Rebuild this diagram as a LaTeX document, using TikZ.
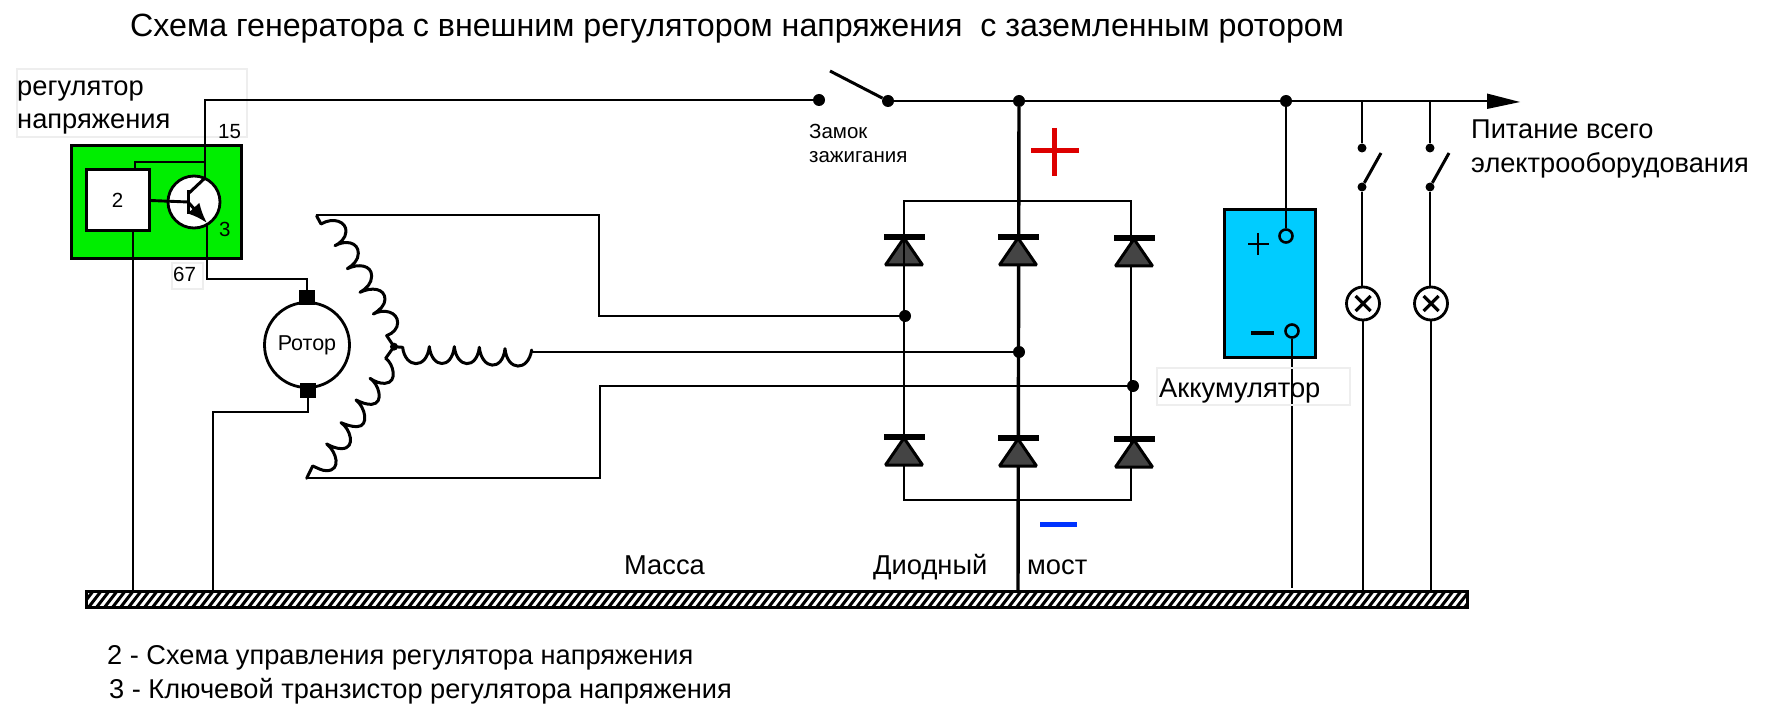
\documentclass[tikz,border=0pt]{standalone}
\usepackage{fontspec}
\usetikzlibrary{arrows.meta}
\setmainfont{Liberation Sans}
\definecolor{regreen}{RGB}{0,238,0}
\definecolor{batblue}{RGB}{0,204,255}
\definecolor{diodegray}{RGB}{68,68,68}
\definecolor{boxgray}{RGB}{238,238,238}
\definecolor{plusred}{RGB}{221,0,0}
\definecolor{minusblue}{RGB}{0,51,255}
\newcommand{\fsz}[1]{\fontsize{#1}{#1}\selectfont}
\tikzset{
  wire/.style={line width=2.9pt,draw=black},
  junction/.style={circle,fill=black,inner sep=0pt,minimum size=#1},
  junction/.default=12pt,
  terminal/.style={circle,draw=black,line width=2.6pt,fill=batblue,inner sep=0pt,minimum size=13pt},
  lamp/.style={circle,draw=black,line width=2.8pt,fill=white,inner sep=0pt,minimum size=33pt},
  graybox/.style={draw=boxgray,line width=2pt,fill=white},
  lab/.style={anchor=base west,inner sep=0pt,text=black},
  brush/.style={fill=black,inner sep=0pt,minimum width=16pt,minimum height=15pt},
  coilline/.style={line width=3pt,line cap=round,line join=round},
  diodepic/.pic={
    \fill[black] (-20.5,-3) rectangle (20.5,3);
    \draw[line width=3pt,fill=diodegray,miter limit=2] (0,1) -- (-18.5,28) -- (18.5,28) -- cycle;
  }
}
\begin{document}
\begin{tikzpicture}[x=1pt,y=-1pt]
\useasboundingbox (0,0) rectangle (1767,719);
% title
\node[lab,font=\fsz{32.2}] (title) at (130,37) {Схема генератора с внешним регулятором напряжения\ \ с заземленным ротором};
% regulator label
\node[graybox,minimum width=230pt,minimum height=68pt,inner sep=0pt] (reglabel) at (132,103) {};
\node[lab,font=\fsz{27.3}] (regt1) at (17,96) {регулятор};
\node[lab,font=\fsz{27.3}] (regt2) at (17,129) {напряжения};
% regulator
\node[draw=black,line width=3pt,fill=regreen,minimum width=170pt,minimum height=113pt,inner sep=0pt] (reg) at (156,202.5) {};
\node[draw=black,line width=3pt,fill=white,minimum width=63pt,minimum height=61pt,inner sep=0pt,font=\fsz{20.5}] (ctl) at (117.5,200.5) {2};
\node[circle,draw=black,line width=2.8pt,fill=white,inner sep=0pt,minimum size=52pt] (tr) at (194,202) {};
\coordinate (base) at (188,202);
\coordinate (coll) at (205,178);
\coordinate (emit) at (207,223);
\coordinate (hub) at (205,162);
\coordinate (ctop) at (135,170);
\coordinate (gA) at (133,590);
\coordinate (gB) at (213,590);
\node[lab,font=\fsz{20.5}] (n15) at (218,139) {15};
\node[lab,font=\fsz{20.5}] (n3) at (219,237) {3};
\node[graybox,minimum width=31pt,minimum height=26pt,inner sep=0pt] (box67) at (187.5,276) {};
\node[lab,font=\fsz{20.5}] (n67) at (173,282) {67};
% ground
\begin{scope}
  \clip (86,592) rectangle (1467,606);
  \foreach \hx in {80,88,...,1470} \draw[line width=3pt] (\hx,608) -- (\hx+14,590);
\end{scope}
\node[draw=black,line width=3pt,minimum width=1381pt,minimum height=16pt,inner sep=0pt] (gnd) at (776.5,599.5) {};
% rotor
\node[circle,draw=black,line width=2.8pt,fill=white,inner sep=0pt,minimum size=85pt,font=\fsz{21.5}] (rotor) at (307,345) {Ротор};
\node[brush] (bt) at (307,298) {};
\node[brush] (bb) at (308,390) {};
% regulator wiring
\coordinate (swL) at (819,100);
\draw[wire] (ctl.south -| gA) -- (gA);
\draw[wire] (ctop) -- (135,162) -- (hub);
\draw[wire] (ctl.east) -- (base);
\draw[line width=3pt] (188,190) -- (188,214);
\draw[line width=3pt] (188,194) -- (coll);
\draw[line width=3pt,-{Latex[length=20pt,width=16pt]}] (188,202) -- (emit);
\draw[wire] (emit) -- (207,279) -| (bt.north);
\draw[wire] (bb.south) |- (213,412) -- (gB);
\draw[wire] (coll) -- (hub) -- (205,100) -- (swL);
% ignition switch
\node[junction] (j1) at (swL) {};
\node[junction] (j2) at (888,101) {};
\coordinate (blade) at (830,71);
\draw[line width=3pt] (blade) -- (j2);
\node[lab,font=\fsz{20.5}] (zam1) at (809,139) {Замок};
\node[lab,font=\fsz{20.5}] (zam2) at (809,163) {зажигания};
% main rail
\node[junction] (jm) at (1019,101) {};
\node[junction] (jb) at (1286,101) {};
\draw[wire] (j2) -- (jm) -- (jb) -- (1495,101);
\fill[black] (1487,93.5) -- (1520,102) -- (1487,109) -- cycle;
\node[lab,font=\fsz{27.2}] (pit1) at (1471,139) {Питание всего};
\node[lab,font=\fsz{27.2}] (pit2) at (1471,173) {электрооборудования};
% bridge
\coordinate (tL) at (904,201);
\coordinate (tR) at (1131,201);
\coordinate (bL) at (904,500);
\coordinate (bR) at (1131,500);
\draw[wire] (tL) -- (tR) -- (bR) -- (bL) -- cycle;
\draw[line width=3.4pt] (jm) -- (1018,592);
\node[junction] (d1) at (905,316) {};
\node[junction] (d2) at (1019,352) {};
\node[junction] (d3) at (1133,386) {};
\pic at (904,237) {diodepic};
\pic at (1018,237) {diodepic};
\pic at (1134,238) {diodepic};
\pic at (904,437) {diodepic};
\pic at (1018,438) {diodepic};
\pic at (1134,439) {diodepic};
\draw[wire] (904,238) -- (904,266);
\draw[plusred,line width=5pt] (1031,151) -- (1079,151) (1054,128) -- (1054,176);
\draw[minusblue,line width=5pt] (1040,524) -- (1077,524);
% stator wires
\draw[wire] (316,215) -- (599,215) -- (599,316) -- (d1);
\draw[wire] (532,352) -- (d2);
\draw[wire] (307,478) -- (600,478) -- (600,386) -- (d3);
% coils
\begin{scope}[x=0.33333pt,y=-0.33333pt,shift={(660,570)}]
  \draw[coilline] (290,78) -- (303,102) .. controls (340,80) and (380,95) .. (378,125) .. controls (377,145) and (360,160) .. (345,167)
    .. controls (375,150) and (415,155) .. (415,190) .. controls (415,210) and (400,225) .. (382,236)
    .. controls (415,220) and (455,225) .. (455,258) .. controls (455,280) and (440,295) .. (420,307)
    .. controls (455,290) and (495,295) .. (495,328) .. controls (495,345) and (480,360) .. (460,372)
    .. controls (490,355) and (533,365) .. (533,398) .. controls (533,415) and (520,430) .. (500,437)
    -- (522,470) -- (497,505) .. controls (520,520) and (535,578) .. (495,580) .. controls (480,581) and (465,575) .. (450,565)
    .. controls (475,580) and (495,640) .. (455,643) .. controls (440,644) and (425,638) .. (408,630)
    .. controls (435,650) and (450,710) .. (410,710) .. controls (395,710) and (380,705) .. (363,698)
    .. controls (390,715) and (410,775) .. (365,776) .. controls (350,776) and (335,770) .. (320,762)
    .. controls (350,785) and (365,842) .. (320,842) .. controls (305,842) and (295,835) .. (278,828) -- (260,865);
  \draw[coilline] (522,470) -- (548,472) .. controls (555,535) and (620,540) .. (628,470)
    .. controls (635,535) and (695,540) .. (703,470)
    .. controls (710,535) and (770,540) .. (778,472)
    .. controls (785,540) and (848,545) .. (855,476)
    .. controls (862,545) and (925,545) .. (935,480);
  \fill (522,470) circle (12);
\end{scope}
% battery
\node[draw=black,line width=3pt,fill=batblue,minimum width=91pt,minimum height=147pt,inner sep=0pt] (bat) at (1269.5,283.5) {};
\node[terminal] (tp) at (1286,236) {};
\node[terminal] (tm) at (1292,331) {};
\draw[wire] (jb) -- (tp);
\draw[line width=2.6pt] (1248,244) -- (1269,244) (1258,233) -- (1258,255);
\draw[line width=3pt] (1251,333) -- (1274,333);
\draw[wire] (tm) -- (1292,588);
\node[graybox,fill=none,minimum width=193pt,minimum height=37pt,inner sep=0pt] (aklab) at (1253.5,386.5) {};
\node[lab,font=\fsz{27.3}] (ak) at (1159,397) {Аккумулятор};
% loads
\foreach \nm/\wx/\lx in {a/1362/1363,b/1430/1431}{
  \coordinate (top\nm) at (\wx,101);
  \node[junction=9pt] (u\nm) at (\wx,148) {};
  \node[junction=9pt] (l\nm) at (\wx,187) {};
  \coordinate (bl\nm) at (\wx+19,153);
  \node[lamp] (lp\nm) at (\lx,303.5) {};
  \draw[wire] (top\nm) -- (u\nm);
  \draw[line width=3pt] (l\nm) -- (bl\nm);
  \draw[wire] (l\nm) -- (\wx,287);
  \draw[wire] (lp\nm.south) -- (\lx,592);
  \draw[line width=3.2pt] (\lx-7.5,296) -- (\lx+7.5,311) (\lx-7.5,311) -- (\lx+7.5,296);
}
% labels
\node[lab,font=\fsz{27.3}] (massa) at (624,574) {Масса};
\node[lab,font=\fsz{27.3}] (diod) at (873,574) {Диодный};
\node[lab,font=\fsz{27.3}] (most) at (1027,574) {мост};
\node[lab,font=\fsz{27.2}] (leg1) at (107,664) {2 - Схема управления регулятора напряжения};
\node[lab,font=\fsz{27.2}] (leg2) at (109,698) {3 - Ключевой транзистор регулятора напряжения};
\end{tikzpicture}
\end{document}
